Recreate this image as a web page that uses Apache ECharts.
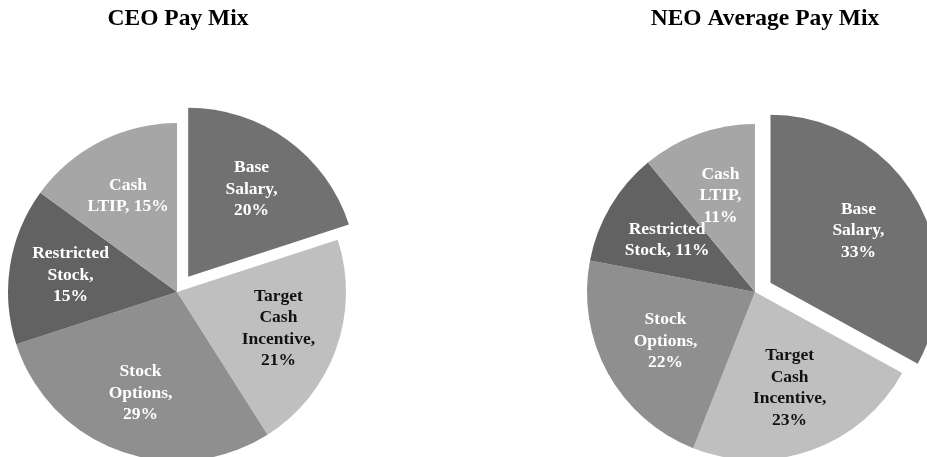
<!DOCTYPE html>
<html>
<head>
<meta charset="utf-8">
<script src="https://cdn.jsdelivr.net/npm/echarts@6/dist/echarts.min.js"></script>
<style>
html,body{margin:0;padding:0;background:#fff;}
#chart{width:927px;height:457px;}
</style>
</head>
<body>
<div id="chart"></div>
<script>
// ---- data ----
var titles = ['CEO Pay Mix', 'NEO Average Pay Mix'];
var ceoNames = ['Base\nSalary', 'Target\nCash\nIncentive', 'Stock\nOptions', 'Restricted\nStock', 'Cash\nLTIP'];
var ceoValues = [20, 21, 29, 15, 15];
var ceoValueSameLine = [false, false, false, false, true];
var neoNames = ['Base\nSalary', 'Target\nCash\nIncentive', 'Stock\nOptions', 'Restricted\nStock', 'Cash\nLTIP'];
var neoValues = [33, 23, 22, 11, 11];
var neoValueSameLine = [false, false, false, true, false];
var exploded = [true, false, false, false, false];

// ---- styles ----
var sliceColors = ['#717171', '#bfbfbf', '#8f8f8f', '#626262', '#a6a6a6'];
var labelColors = ['#ffffff', '#111111', '#ffffff', '#ffffff', '#ffffff'];
var serif = '"Liberation Serif", "Times New Roman", serif';

function buildData(names, values, sameLine, transparent) {
  return names.map(function (n, i) {
    return {
      name: n,
      value: values[i],
      selected: exploded[i],
      itemStyle: { color: transparent ? 'rgba(0,0,0,0)' : sliceColors[i], borderWidth: 0 },
      label: transparent ? {
        show: true,
        position: 'inside',
        color: labelColors[i],
        formatter: n + ',' + (sameLine[i] ? ' ' : '\n') + values[i] + '%'
      } : { show: false }
    };
  });
}

function pieSeries(names, values, sameLine, center, r, labelFactor, offset) {
  var base = {
    type: 'pie',
    center: center,
    startAngle: 90,
    clockwise: true,
    selectedMode: 'single',
    selectedOffset: offset,
    avoidLabelOverlap: false,
    labelLine: { show: false },
    labelLayout: { hideOverlap: false },
    emphasis: { disabled: true },
    animation: false
  };
  var fill = Object.assign({}, base, {
    radius: [0, r],
    data: buildData(names, values, sameLine, false),
    label: { show: false }
  });
  var labels = Object.assign({}, base, {
    radius: [0, r * labelFactor],
    silent: true,
    z: 5,
    data: buildData(names, values, sameLine, true),
    label: {
      fontFamily: serif,
      fontWeight: 'bold',
      fontSize: 17.5,
      lineHeight: 21.5,
      align: 'center'
    }
  });
  return [fill, labels];
}

var chart = echarts.init(document.getElementById('chart'));
chart.setOption({
  backgroundColor: '#ffffff',
  title: [
    { text: titles[0], left: 173, top: 2, textAlign: 'center',
      textStyle: { fontFamily: serif, fontWeight: 'bold', fontSize: 23.5, color: '#000' } },
    { text: titles[1], left: 760, top: 2, textAlign: 'center',
      textStyle: { fontFamily: serif, fontWeight: 'bold', fontSize: 23.5, color: '#000' } }
  ],
  series: []
    .concat(pieSeries(ceoNames, ceoValues, ceoValueSameLine, [177, 292], 169, 1.24, 19))
    .concat(pieSeries(neoNames, neoValues, neoValueSameLine, [755, 292], 168, 1.18, 18))
});
</script>
</body>
</html>
